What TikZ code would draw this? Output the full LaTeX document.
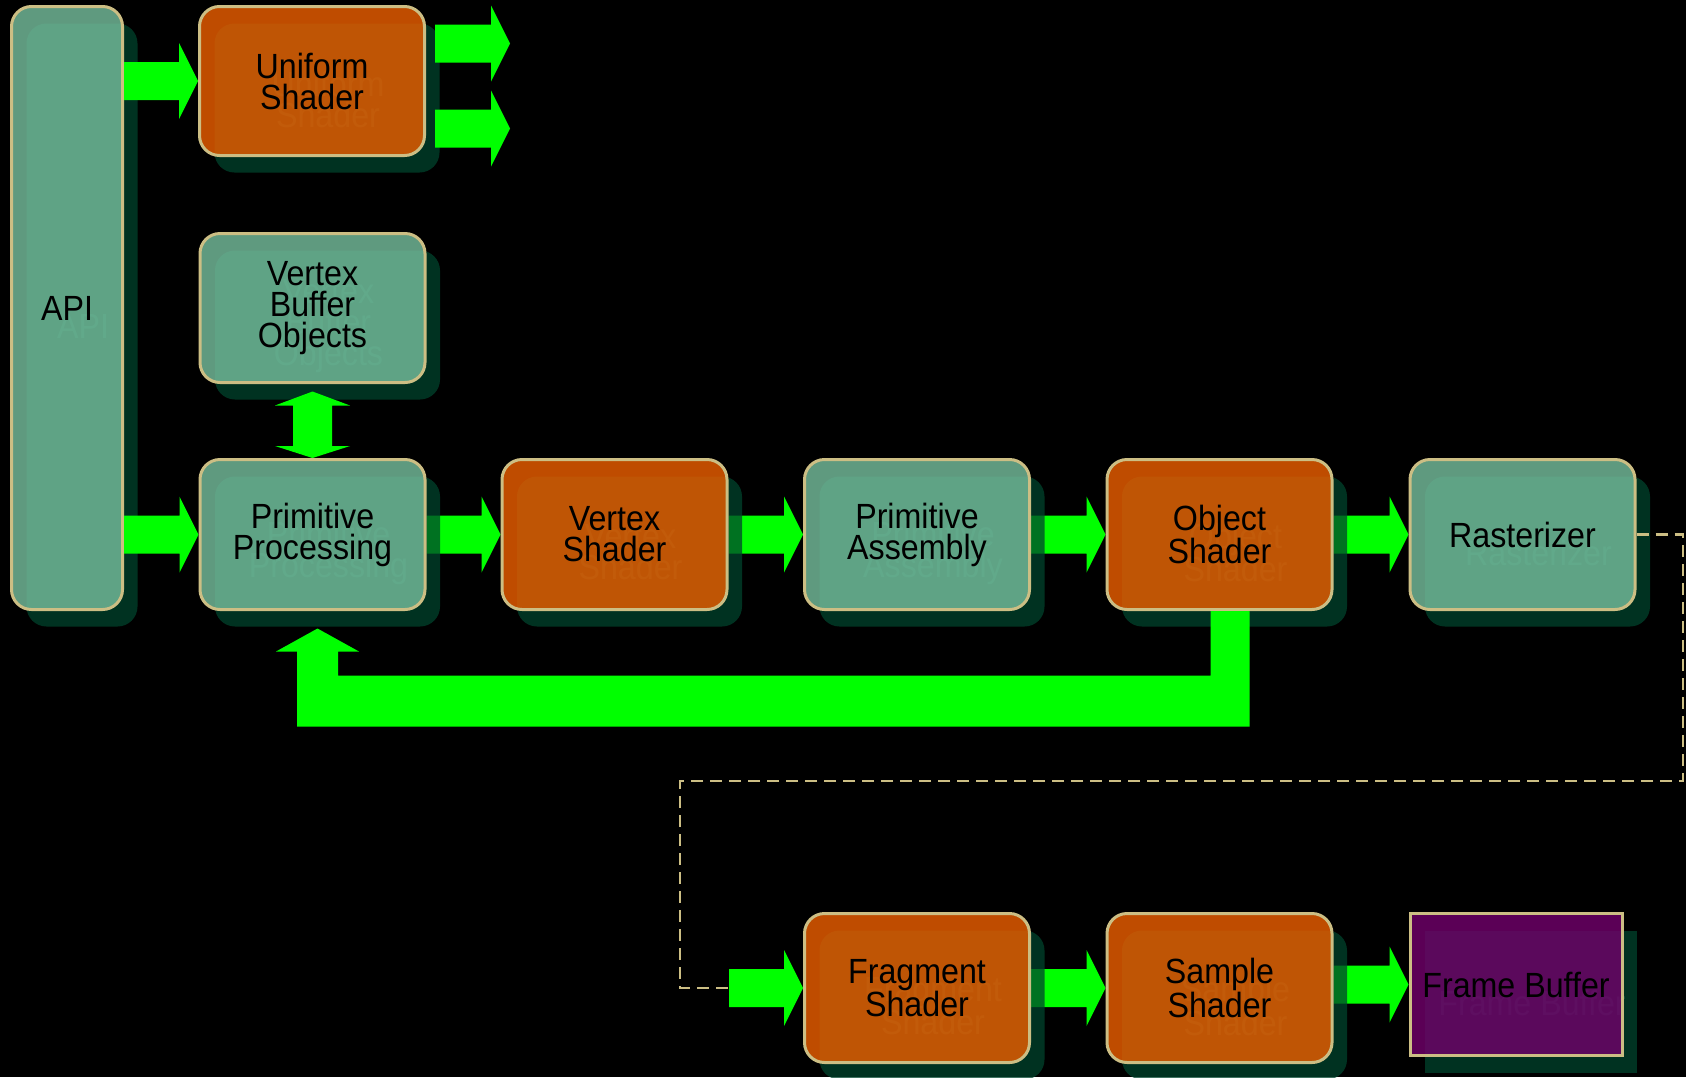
\documentclass[tikz,border=0pt]{standalone}
\usepackage{fontspec}
\newfontfamily\stagefamily{Liberation Sans}[FakeStretch=0.92]
\newcommand\stagefont{\stagefamily\fontsize{35pt}{31pt}\selectfont}
\usetikzlibrary{calc}

\pgfdeclarelayer{backdrop}
\pgfdeclarelayer{under}
\pgfdeclarelayer{shadows}
\pgfsetlayers{backdrop,under,shadows,main}

\definecolor{boxline}{RGB}{204,190,132}
\definecolor{tealfill}{RGB}{116,188,156}
\definecolor{amberfill}{RGB}{234,93,0}
\definecolor{plumfill}{RGB}{112,0,106}
\definecolor{shadowgreen}{RGB}{0,68,45}
\definecolor{ghostgreen}{RGB}{16,86,58}
\definecolor{flowgreen}{RGB}{0,255,0}

\tikzset{
  stage/.style={draw=boxline, line width=3pt, rounded corners=20pt,
    fill opacity=0.82, text opacity=1, inner sep=0pt, align=center,
    font=\stagefont, text=black},
  tealbox/.style={fill=tealfill},
  amberbox/.style={fill=amberfill},
  plumbox/.style={fill=plumfill},
  dropshadow/.style={fill=shadowgreen, fill opacity=0.75, draw=none,
    rounded corners=20pt, inner sep=0pt},
  ghosttext/.style={text=ghostgreen, font=\stagefont, align=center, inner sep=0pt},
  flowarrow/.style={fill=flowgreen},
  dashline/.style={draw=boxline, line width=2.5pt, dash pattern=on 12pt off 7pt},
}

% a pipeline stage: drop shadow with its faint text, then the box itself
% #1 extra shape options, #2 name, #3 centre, #4 width, #5 height, #6 fill style, #7 text
\newcommand\stage[7][]{%
  \begin{pgfonlayer}{shadows}
    \node[dropshadow,#1,minimum width=#4,minimum height=#5] (#2-shadow) at ([shift={(15,17)}]#3) {};
    \node[ghosttext] (#2-ghost) at ([shift={(16,18)}]#3) {#7};
  \end{pgfonlayer}
  \node[stage,#6,#1,minimum width=#4,minimum height=#5] (#2) at (#3) {#7};
}

% block arrow pointing right: shaft starts at x of #1, tip at #2
\newcommand\flowright[2]{%
  \fill[flowarrow] let \p1=#1, \p2=#2 in
    (\x1,\y2+19pt) -- (\x2-19pt,\y2+19pt) -- (\x2-19pt,\y2+38pt) -- (\x2,\y2)
    -- (\x2-19pt,\y2-38pt) -- (\x2-19pt,\y2-19pt) -- (\x1,\y2-19pt) -- cycle;}

\begin{document}
\begin{tikzpicture}[x=1pt, y=-1pt]
\useasboundingbox (0,0) rectangle (1686,1077);
\begin{pgfonlayer}{backdrop}
  \fill[black] (0,0) rectangle (1686,1077);
\end{pgfonlayer}

% stages
\stage{api}{67,308}{111pt}{603pt}{tealbox}{API}
\stage{uniform}{312,81}{225pt}{149pt}{amberbox}{Uniform\\Shader}
\stage{vbo}{312.5,308}{225pt}{149pt}{tealbox}{Vertex\\Buffer\\Objects}
\stage{pp}{312.5,534.5}{225pt}{150pt}{tealbox}{Primitive\\Processing}
\stage{vs}{614.5,534.5}{225pt}{150pt}{amberbox}{Vertex\\Shader}
\stage{pa}{917,534.5}{225pt}{150pt}{tealbox}{Primitive\\Assembly}
\stage{os}{1219.5,534.5}{225pt}{150pt}{amberbox}{Object\\Shader}
\stage{rast}{1522.5,534.5}{225pt}{150pt}{tealbox}{Rasterizer}
\stage{frag}{917,988}{225pt}{149pt}{amberbox}{Fragment\\Shader}
\stage{sample}{1219.5,988}{225pt}{149pt}{amberbox}{Sample\\Shader}
\stage[sharp corners]{fb}{1516,984.5}{212pt}{142pt}{plumbox}{Frame Buffer}

% free ends of the connectors
\coordinate (uout1) at (510,43.5);
\coordinate (uout2) at (510,128.5);
\coordinate (fragin) at (729,988);
\coordinate (bendA) at (1683,781);
\coordinate (bendB) at (680,988);

% stage-to-stage flow, passing under the drop shadows
\begin{pgfonlayer}{under}
  \flowright{(pp.east)}{(vs.west)}
  \flowright{(vs.east)}{(pa.west)}
  \flowright{(pa.east)}{(os.west)}
  \flowright{(os.east)}{(rast.west)}
  \flowright{(frag.east)}{(sample.west)}
  \flowright{(sample.east)}{(fb.west)}
\end{pgfonlayer}

% API inputs and uniform outputs
\flowright{(api.east)}{(uniform.west)}
\flowright{(api.east)}{(pp.west)}
\flowright{([xshift=9pt]uniform.east)}{(uout1)}
\flowright{([xshift=9pt]uniform.east)}{(uout2)}

% two-way link between vertex buffer objects and primitive processing
\fill[flowarrow] let \p1=(vbo.south), \p2=(pp.north) in
  (\x2,\y1-7.5pt) -- (\x2+37.5pt,\y1-21.5pt) -- (\x2+19.5pt,\y1-21.5pt)
  -- (\x2+19.5pt,\y2+12pt) -- (\x2+37.5pt,\y2+12pt) -- (\x2,\y2)
  -- (\x2-37.5pt,\y2+12pt) -- (\x2-19.5pt,\y2+12pt) -- (\x2-19.5pt,\y1-21.5pt)
  -- (\x2-37.5pt,\y1-21.5pt) -- cycle;

% feedback from the object shader back to primitive processing
\fill[flowarrow] let \p1=(os.south), \p2=(pp.south) in
  (\x1-9pt,\y1) -- (\x1+30pt,\y1) -- (\x1+30pt,\y1-115.5pt)
  -- (\x2-15.5pt,\y1-115.5pt) -- (\x2-15.5pt,\y2-40.5pt) -- (\x2-36.5pt,\y2-40.5pt)
  -- (\x2+5pt,\y2-17.5pt) -- (\x2+46.5pt,\y2-40.5pt) -- (\x2+25.5pt,\y2-40.5pt)
  -- (\x2+25.5pt,\y1-64.5pt) -- (\x1-9pt,\y1-64.5pt) -- cycle;

% rasterizer output to the fragment stage
\draw[dashline] (rast.east) -| (bendA) -| (bendB) -- (fragin);
\flowright{(fragin)}{(frag.west)}
\end{tikzpicture}
\end{document}
